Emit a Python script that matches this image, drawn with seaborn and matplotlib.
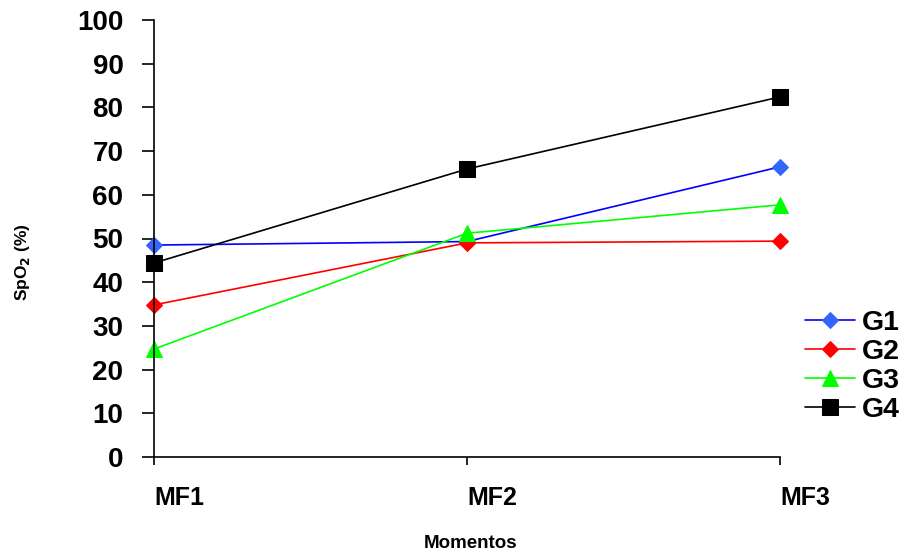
import matplotlib
matplotlib.use("Agg")
import matplotlib.pyplot as plt
import matplotlib.transforms as mtransforms
import seaborn as sns
import pandas as pd

moments = ["MF1", "MF2", "MF3"]
g1 = [48.5, 49.3, 66.4]
g2 = [34.8, 49.0, 49.4]
g3 = [24.7, 51.2, 57.7]
g4 = [44.4, 65.9, 82.4]
y_ticks = [0, 10, 20, 30, 40, 50, 60, 70, 80, 90, 100]

sns.set_theme(style="white")
plt.rcParams['font.family'] = ['Liberation Sans', 'DejaVu Sans']
plt.rcParams['text.color'] = 'black'

series = {"G1": g1, "G2": g2, "G3": g3, "G4": g4}
frames = []
for name, vals in series.items():
    frames.append(pd.DataFrame({"Momento": moments, "SpO2": vals, "Grupo": name}))
df = pd.concat(frames, ignore_index=True)

styles = {
    "G1": dict(color="#0000FF", marker="D", markersize=8, markerfacecolor="#3366FF", markeredgecolor="#3366FF"),
    "G2": dict(color="#FF0000", marker="D", markersize=8, markerfacecolor="#FF0000", markeredgecolor="#FF0000"),
    "G3": dict(color="#00FF00", marker="^", markersize=11, markerfacecolor="#00FF00", markeredgecolor="#00FF00"),
    "G4": dict(color="#000000", marker="s", markersize=11, markerfacecolor="#000000", markeredgecolor="#000000"),
}

fig = plt.figure(figsize=(9.11, 5.58), dpi=100)
ax = fig.add_axes([154/911, 1-457/558, (780-154)/911, (457-20)/558])

for name in series:
    sub = df[df["Grupo"] == name]
    sns.lineplot(data=sub, x="Momento", y="SpO2", ax=ax, label=name,
                 linewidth=1.2, clip_on=False, **styles[name])

ax.set_xlim(0, 2)
ax.set_ylim(0, 100)
ax.set_yticks(y_ticks)
ax.set_yticklabels([str(v) for v in y_ticks], fontsize=20, fontweight="bold")
ax.set_xticks([0, 1, 2])
ax.set_xticklabels(moments, fontsize=18, fontweight="bold")
for lab in ax.get_xticklabels():
    lab.set_ha("left")
    lab.set_transform(lab.get_transform() + mtransforms.ScaledTranslation(4/100, 0, fig.dpi_scale_trans))

ax.tick_params(axis="y", direction="out", length=9, width=1.2, pad=13, colors="black")
ax.tick_params(axis="x", direction="out", length=6, width=1.2, pad=15, colors="black")
ax.tick_params(left=True, bottom=True)

for s in ["top", "right"]:
    ax.spines[s].set_visible(False)
for s in ["left", "bottom"]:
    ax.spines[s].set_color("black")
    ax.spines[s].set_linewidth(1.2)

ax.set_xlabel("")
ax.set_ylabel("")
fig.text((154+780)/2/911 + 0.004, 1-544/558, "Momentos", fontsize=13.5, fontweight="bold",
         ha="center", va="center", color="black")
fig.text(22/911, 1-262/558, "SpO$_\\mathbf{2}$ (%)", fontsize=12.5, fontweight="bold",
         rotation=90, ha="center", va="center", color="black")

leg = ax.legend(loc="upper left", bbox_to_anchor=(805/911, 1-310/558), bbox_transform=fig.transFigure,
                frameon=False, prop=dict(size=20.5, weight="bold"), handlelength=1.75,
                handletextpad=0.25, labelspacing=0.1, borderaxespad=0, borderpad=0,
                labelcolor="black")

fig.savefig("out.png", dpi=100)
